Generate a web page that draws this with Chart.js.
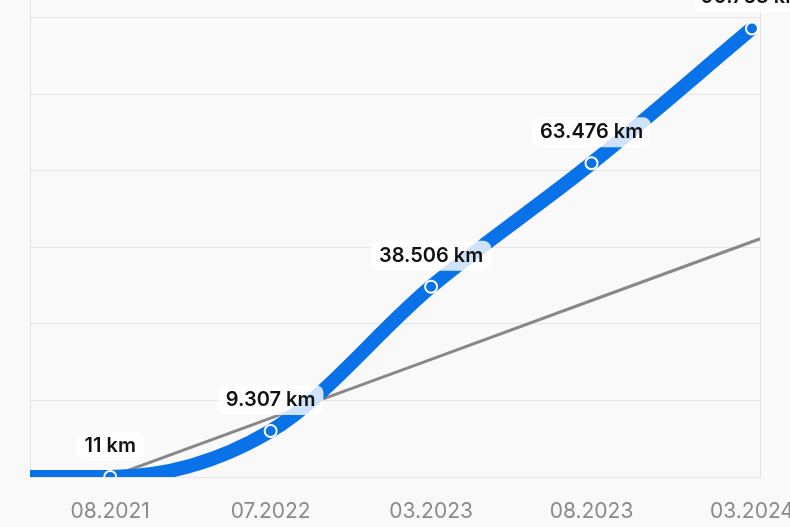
<!DOCTYPE html>
<html><head><meta charset="utf-8">
<script src="https://cdn.jsdelivr.net/npm/chart.js@4"></script>
<style>html,body{margin:0;padding:0;overflow:hidden;background:#f9f9f9;width:790px;height:527px}
#w{position:absolute;left:0;top:-40px;width:840px;height:567px}</style></head>
<body><div id="w"><canvas id="c"></canvas></div>
<script>
const tickLabels = ["", "08.2021", "07.2022", "03.2023", "08.2023", "03.2024"];
const distanceX = [0, 1, 2, 3, 4, 5];
const distanceKm = [11, 11, 9307, 38506, 63476, 90763];
const pointLabels = ["", "11 km", "9.307 km", "38.506 km", "63.476 km", "90.763 km"];
const trendX = [1, 2, 3, 4, 5, 6];
const trendKm = [11, 11911, 23811, 35711, 47611, 59511];

const labelPlugin = {
  id: 'lbl',
  afterDatasetsDraw(chart) {
    const ctx = chart.ctx, meta = chart.getDatasetMeta(0);
    ctx.save();
    ctx.font = '600 20px Inter, "Open Sans", sans-serif';
    ctx.textAlign = 'center'; ctx.textBaseline = 'middle';
    meta.data.forEach((p, i) => {
      const t = pointLabels[i]; if (!t) return;
      const w = ctx.measureText(t).width + 16, y = p.y - 31;
      ctx.fillStyle = 'rgba(255,255,255,0.8)';
      ctx.beginPath(); ctx.roundRect(p.x - w/2, y - 15, w, 30, 8); ctx.fill();
      ctx.fillStyle = '#111'; ctx.fillText(t, p.x, y);
    });
    ctx.restore();
  }
};

new Chart(document.getElementById('c'), {
  type: 'line',
  data: { datasets: [
    { data: distanceX.map((x,i)=>({x, y: distanceKm[i]})), borderColor:'#0a72e8', borderWidth:14,
      cubicInterpolationMode:'monotone', pointRadius:(c)=>c.dataIndex===0?0:6, pointBackgroundColor:'#0a72e8',
      pointBorderColor:'#fff', pointBorderWidth:2, order:0 },
    { data: trendX.map((x,i)=>({x, y: trendKm[i]})), borderColor:'#888', borderWidth:3, pointRadius:0, order:1 }
  ]},
  options: {
    responsive:true, maintainAspectRatio:false, animation:false,
    layout:{padding:0},
    plugins:{legend:{display:false}, tooltip:{enabled:false}},
    scales:{
      x:{ type:'linear', min:0.5, max:5.05, afterFit:s=>{s.height=50},
        afterBuildTicks:s=>{s.ticks=[1,2,3,4,5].map(v=>({value:v}))},
        ticks:{ callback:v=>tickLabels[v]||'', color:'#8a8a8a', font:{size:21, family:'Inter, "Open Sans", sans-serif'}, maxRotation:0, autoSkip:false, padding:14},
        grid:{display:false}, border:{display:false} },
      y:{ min:0, max:103000, afterFit:s=>{s.width=30},
        afterBuildTicks:s=>{s.ticks=[0,15500,31000,46500,62000,77500,93000].map(v=>({value:v}))},
        ticks:{display:false}, grid:{color:'#e6e6e6', lineWidth:1, drawTicks:false}, border:{color:'#e3e3e3'} },
      y2:{ position:'right', min:0, max:103000, afterFit:s=>{s.width=80}, ticks:{display:false},
        grid:{display:false}, border:{color:'#e3e3e3'} }
    }
  },
  plugins:[labelPlugin]
});
</script></body></html>
